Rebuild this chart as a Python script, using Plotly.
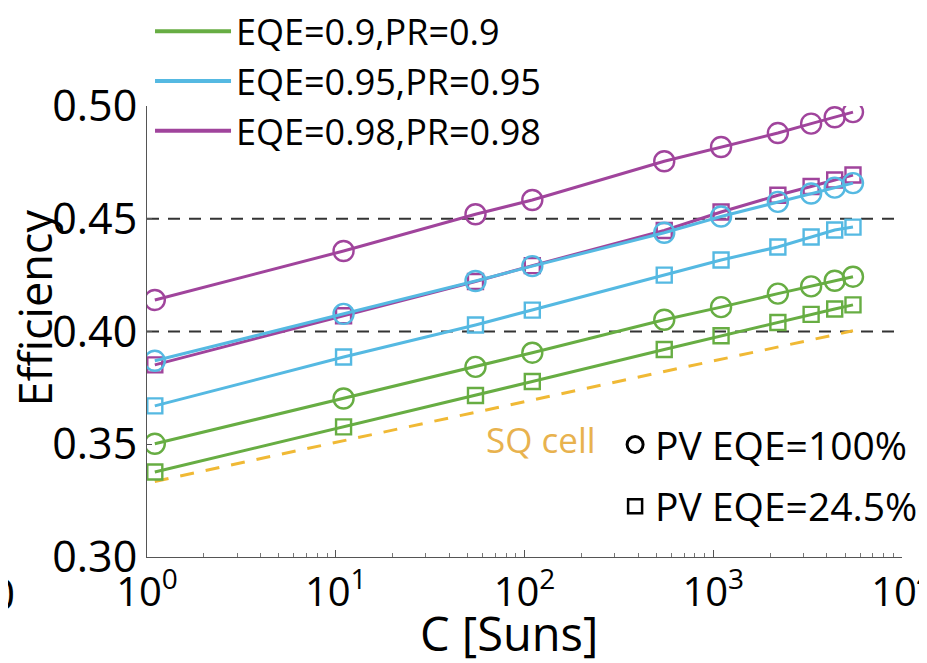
import plotly.graph_objects as go

# ---------------- data ----------------
C_SUNS = [1.1, 11, 55, 110, 550, 1100, 2200, 3300, 4400, 5500]

G_EQE100 = [0.3502, 0.3703, 0.3843, 0.3906, 0.4052, 0.4108, 0.4168, 0.4200, 0.4225, 0.4243]
G_EQE245 = [0.3377, 0.3577, 0.3716, 0.3778, 0.3920, 0.3981, 0.4040, 0.4076, 0.4100, 0.4118]
C_EQE100 = [0.3870, 0.4078, 0.4224, 0.4290, 0.4438, 0.4510, 0.4575, 0.4612, 0.4638, 0.4658]
C_EQE245 = [0.3670, 0.3887, 0.4029, 0.4095, 0.4250, 0.4317, 0.4375, 0.4419, 0.4450, 0.4463]
P_EQE100 = [0.4140, 0.4357, 0.4520, 0.4583, 0.4755, 0.4818, 0.4880, 0.4922, 0.4950, 0.4973]
P_EQE245 = [0.3852, 0.4070, 0.4222, 0.4292, 0.4448, 0.4530, 0.4604, 0.4643, 0.4672, 0.4694]

SQ_X = [1.1, 5500]
SQ_Y = [0.3335, 0.4003]

REF_LEVELS = [0.40, 0.45]
REF_X = [1, 10000]

SERIES_NAMES = ["EQE=0.9,PR=0.9", "EQE=0.95,PR=0.95", "EQE=0.98,PR=0.98"]
X_TICKS = [1, 10, 100, 1000, 10000]
X_TICKTEXT = ["10<sup>0</sup>", "10<sup>1</sup>", "10<sup>2</sup>", "10<sup>3</sup>", "10<sup>4</sup>"]
X_MINOR = [m * d for d in [1, 10, 100, 1000] for m in range(2, 10)]
Y_TICKS = [0.30, 0.35, 0.40, 0.45, 0.50]

GREEN = "#67ad43"
CYAN = "#55b9e2"
PURPLE = "#a0449c"
ORANGE = "#f0b935"

FONT = "Open Sans, sans-serif"

fig = go.Figure()

# reference dashed lines
for lvl in REF_LEVELS:
    fig.add_trace(go.Scatter(x=REF_X, y=[lvl, lvl], mode="lines",
                             line=dict(color="#333333", width=2, dash="12px,9px"),
                             showlegend=False, hoverinfo="skip"))

# SQ cell
fig.add_trace(go.Scatter(x=SQ_X, y=SQ_Y, mode="lines",
                         line=dict(color=ORANGE, width=3, dash="14px,12px"),
                         showlegend=False))

series = [
    (P_EQE100, P_EQE245, PURPLE),
    (C_EQE100, C_EQE245, CYAN),
    (G_EQE100, G_EQE245, GREEN),
]
for y100, y245, col in series:
    fig.add_trace(go.Scatter(x=C_SUNS, y=y245, mode="lines+markers",
                             line=dict(color=col, width=3),
                             marker=dict(symbol="square-open", size=15, color=col, line=dict(width=2.4, color=col)),
                             showlegend=False))
    fig.add_trace(go.Scatter(x=C_SUNS, y=y100, mode="lines+markers",
                             line=dict(color=col, width=3),
                             marker=dict(symbol="circle-open", size=20, color=col, line=dict(width=2.4, color=col)),
                             showlegend=False))

# legend entries (lines only)
for name, col, rank in zip(SERIES_NAMES, [GREEN, CYAN, PURPLE], [1, 2, 3]):
    fig.add_trace(go.Scatter(x=[None], y=[None], mode="lines", name=name,
                             line=dict(color=col, width=4), legendrank=rank, legend="legend"))

# marker-type legend
fig.add_trace(go.Scatter(x=[None], y=[None], mode="markers", name="PV EQE=100%",
                         marker=dict(symbol="circle-open", size=16, color="black", line=dict(width=3, color="black")),
                         legend="legend2", legendrank=1, legendgroup="pv100"))
fig.add_trace(go.Scatter(x=[None], y=[None], mode="markers", name="PV EQE=24.5%",
                         marker=dict(symbol="square-open", size=14, color="black", line=dict(width=2.5, color="black")),
                         legend="legend2", legendrank=2, legendgroup="pv245"))

# the page body adds an 8px offset; margins compensate for it
fig.update_layout(
    width=927, height=663,
    margin=dict(l=139, r=33, t=98, b=114, autoexpand=False),
    paper_bgcolor="white", plot_bgcolor="white",
    font=dict(family=FONT, color="black", size=36),
    legend=dict(x=0.004, y=1.232, xanchor="left", yanchor="top",
                font=dict(size=36), itemwidth=76, bgcolor="rgba(0,0,0,0)",
                traceorder="normal"),
    legend2=dict(x=0.62, y=0.32, xanchor="left", yanchor="top",
                 font=dict(size=39), bgcolor="rgba(0,0,0,0)",
                 traceorder="grouped", tracegroupgap=8),
    xaxis=dict(type="log", range=[0, 4], showline=True, linecolor="#555555", linewidth=1.2,
               ticks="inside", ticklen=7, tickcolor="#555555",
               tickvals=X_TICKS, ticktext=X_TICKTEXT,
               tickfont=dict(size=40, family=FONT), ticklabeloverflow="allow",
               showgrid=False, zeroline=False, automargin=False,
               minor=dict(tickvals=X_MINOR, ticks="inside", ticklen=4, tickcolor="#777777", showgrid=False)),
    yaxis=dict(range=[0.30, 0.50], showline=True, linecolor="#555555", linewidth=1.2,
               ticks="inside", ticklen=5, tickcolor="#555555",
               tickvals=Y_TICKS, tickformat=".2f",
               tickfont=dict(size=43, family=FONT), ticklabeloverflow="allow",
               showgrid=False, zeroline=False, automargin=False),
    annotations=[
        dict(text="Efficiency", xref="paper", yref="paper", x=-0.149, y=0.552,
             textangle=-90, showarrow=False, font=dict(size=45, family=FONT),
             xanchor="center", yanchor="middle"),
        dict(text="C [Suns]", xref="paper", yref="paper", x=0.479, y=-0.168,
             showarrow=False, font=dict(size=47, family=FONT),
             xanchor="center", yanchor="middle"),
        dict(text="SQ cell", xref="x", yref="y", x=2.09, y=0.352,
             showarrow=False, font=dict(size=35, family=FONT, color="#e8b24e"),
             xanchor="center", yanchor="middle"),
        dict(text="0", xref="paper", yref="paper", x=-0.191, y=-0.08,
             showarrow=False, font=dict(size=44, family=FONT),
             xanchor="center", yanchor="middle"),
    ],
)

fig.write_html("out.html")
